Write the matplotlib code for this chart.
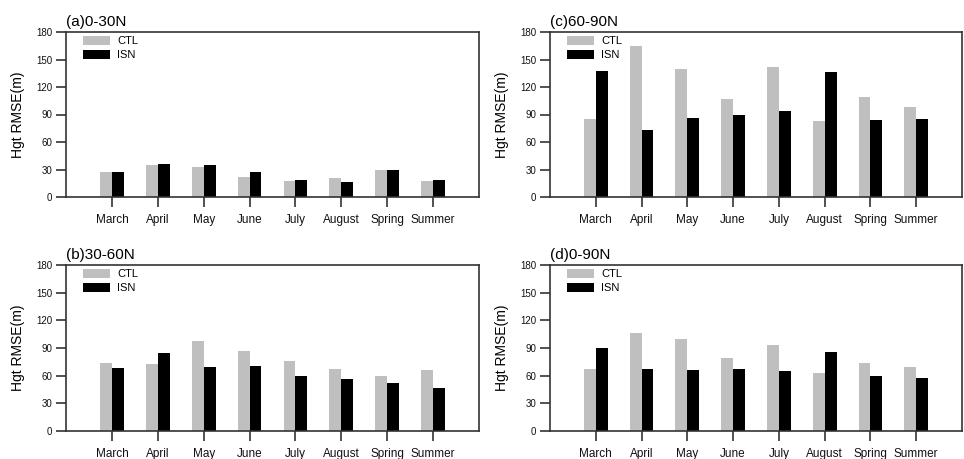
import matplotlib
matplotlib.use("Agg")
import matplotlib.pyplot as plt
import numpy as np

plt.rcParams['font.family'] = ['Liberation Sans', 'DejaVu Sans']

categories = ["March", "April", "May", "June", "July", "August", "Spring", "Summer"]

ctl_a = [27.4, 35.4, 32.9, 21.5, 18.0, 20.8, 29.2, 17.5]
isn_a = [27.0, 36.5, 35.0, 27.0, 18.6, 16.4, 30.0, 18.6]

ctl_b = [74.1, 72.6, 97.6, 86.7, 76.3, 67.2, 59.3, 66.5]
isn_b = [68.0, 84.2, 69.0, 70.8, 60.0, 56.7, 52.4, 47.0]

ctl_c = [85.6, 164.4, 140.0, 106.7, 141.5, 82.7, 109.2, 98.7]
isn_c = [137.5, 72.6, 86.7, 90.0, 93.3, 136.4, 84.2, 85.3]

ctl_d = [67.2, 105.9, 100.1, 79.5, 93.2, 62.5, 74.1, 69.4]
isn_d = [90.0, 67.6, 66.5, 67.6, 64.7, 85.7, 60.0, 57.1]

titles = ["(a)0-30N", "(b)30-60N", "(c)60-90N", "(d)0-90N"]
yticks = [0, 30, 60, 90, 120, 150, 180]

W, H = 964, 459
fig = plt.figure(figsize=(W / 100, H / 100), dpi=100)

# pixel boxes: left, top, right, bottom
boxes = [
    (66, 32, 479, 197),
    (66, 265, 479, 431),
    (550, 32, 962, 197),
    (550, 265, 962, 431),
]
data = [(ctl_a, isn_a), (ctl_b, isn_b), (ctl_c, isn_c), (ctl_d, isn_d)]
ylab_x = [18, 18, 502, 502]

gray = "#bfbfbf"
x = np.arange(1, len(categories) + 1)
bw = 0.26

for (l, t, r, b), (ctl, isn), title, yx in zip(boxes, data, titles, ylab_x):
    ax = fig.add_axes([l / W, 1 - b / H, (r - l) / W, (b - t) / H])
    ax.bar(x - bw / 2, ctl, width=bw, color=gray, label="CTL", linewidth=0)
    ax.bar(x + bw / 2, isn, width=bw, color="black", label="ISN", linewidth=0)
    ax.set_xlim(0, 9)
    ax.set_ylim(0, 180)
    ax.set_yticks(yticks)
    ax.set_yticklabels([str(v) for v in yticks], fontsize=7)
    ax.set_xticks(x)
    ax.set_xticklabels(categories, fontsize=8.5)
    ax.tick_params(axis='x', direction='out', length=7, width=1.1, pad=5.5, colors='#222222', labelcolor='#111111')
    ax.tick_params(axis='y', direction='out', length=7, width=1.1, pad=3, colors='#222222', labelcolor='#111111')
    for s in ax.spines.values():
        s.set_linewidth(1.2)
        s.set_color('#333333')
    ax.text(0, 1.02, title, transform=ax.transAxes, fontsize=11, ha='left', va='bottom')
    fig.text(yx / W, 1 - ((t + b) / 2) / H, "Hgt RMSE(m)", rotation=90, fontsize=10,
             ha='center', va='center')
    ax.legend(loc='upper left', bbox_to_anchor=(0.025, 1.015), frameon=False,
              fontsize=8, handlelength=2.4, handleheight=0.8, labelspacing=0.35,
              handletextpad=0.7, borderaxespad=0.2)

fig.savefig("out.png", dpi=100)
